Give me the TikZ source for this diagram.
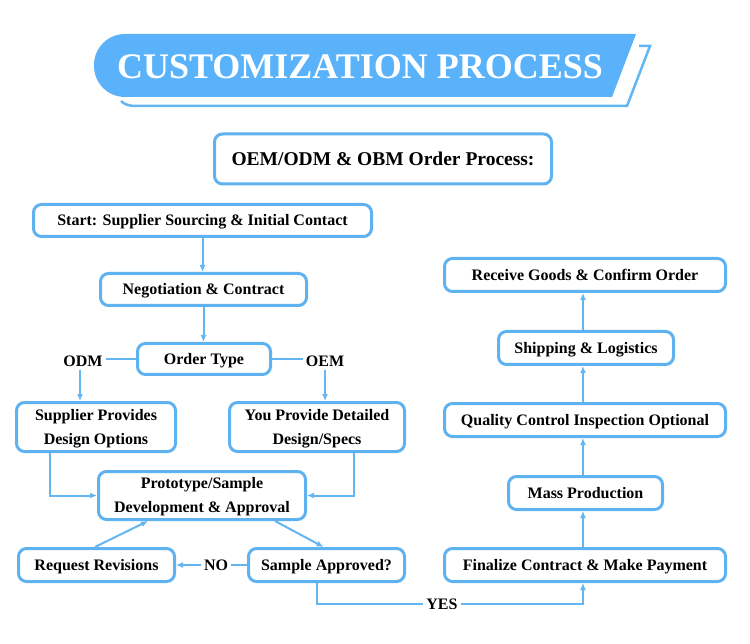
\documentclass[tikz,border=0pt]{standalone}
\usepackage{fontspec}
\setmainfont{Liberation Serif}
\usetikzlibrary{arrows.meta,calc}
\definecolor{bannerblue}{RGB}{90,179,250}
\definecolor{boxblue}{RGB}{94,178,240}
\definecolor{lineblue}{RGB}{100,182,242}
\begin{document}
\begin{tikzpicture}[x=1pt,y=-1pt,
 box/.style={draw=boxblue,line width=3pt,rounded corners=8pt,fill=white,inner sep=0pt,align=center,text depth=0.5pt,font=\bfseries\fontsize{16}{24}\selectfont},
 lbl/.style={inner sep=3pt,font=\bfseries\fontsize{16}{19}\selectfont},
 ln/.style={draw=lineblue,line width=2pt},
 arr/.style={ln,-{Latex[length=7pt,width=6pt]}}]
\useasboundingbox (0,0) rectangle (750,644);
\fill[white] (0,0) rectangle (750,644);
% banner
\draw[lineblue, line width=2.5pt, line join=miter] (639,46) -- (650,46) -- (627,106) -- (136,106) .. controls (128,106) and (124,104) .. (121,101);
\fill[bannerblue] (636,34) -- (300,34) [rounded corners=31pt] -- (94,34) -- (94,97) -- (300,97) [sharp corners] -- (612,97) -- cycle;
\node[text=white, inner sep=0pt, font=\bfseries\fontsize{36}{40}\selectfont] (title) at (360,67) {CUSTOMIZATION PROCESS};
% boxes
\node[box, minimum width=337pt, minimum height=50pt, font=\bfseries\fontsize{19.5}{23}\selectfont] (head) at (383,159) {OEM/ODM \& OBM Order Process:};
\node[box, minimum width=338pt, minimum height=32pt] (start) at (202.5,220.5) {Start: Supplier Sourcing \& Initial Contact};
\node[box, minimum width=206pt, minimum height=32pt] (nego) at (203.5,289.5) {Negotiation \& Contract};
\node[box, minimum width=133pt, minimum height=31pt] (order) at (204,359) {Order Type};
\node[box, minimum width=159pt, minimum height=49pt] (supp) at (96,427) {Supplier Provides\\Design Options};
\node[box, minimum width=175pt, minimum height=49pt] (you) at (317,427) {You Provide Detailed\\Design/Specs};
\node[box, minimum width=207pt, minimum height=48pt] (proto) at (202,495.5) {Prototype/Sample\\Development \& Approval};
\node[box, minimum width=156pt, minimum height=33pt] (req) at (96.5,565) {Request Revisions};
\node[box, minimum width=156pt, minimum height=33pt] (samp) at (326.5,565) {Sample Approved?};
\node[box, minimum width=281pt, minimum height=33pt] (fin) at (585,565) {Finalize Contract \& Make Payment};
\node[box, minimum width=154pt, minimum height=33pt] (mass) at (585.5,493) {Mass Production};
\node[box, minimum width=281pt, minimum height=33pt] (qc) at (585,420) {Quality Control Inspection Optional};
\node[box, minimum width=175pt, minimum height=33pt] (ship) at (586,348) {Shipping \& Logistics};
\node[box, minimum width=281pt, minimum height=33pt] (recv) at (585,275) {Receive Goods \& Confirm Order};
% labels
\node[lbl] (odm) at (83,361) {ODM};
\node[lbl] (oem) at (325,361) {OEM};
\node[lbl] (no) at (216,565) {NO};
\node[lbl] (yes) at (442,604) {YES};
% connectors
\draw[arr] (start.south) -- (start.south |- nego.north);
\draw[arr] (nego.south) -- (nego.south |- order.north);
\draw[ln] (order.west) -- (order.west -| odm.east);
\draw[arr] ([xshift=-3pt]odm.south) -- ([xshift=-3pt]odm.south |- supp.north);
\draw[ln] (order.east) -- (order.east -| oem.west);
\draw[arr] (oem.south) -- (oem.south |- you.north);
\draw[arr] ([xshift=-46pt]supp.south) |- (proto.west);
\draw[arr] ([xshift=37pt]you.south) |- (proto.east);
\draw[arr] ([xshift=73pt]proto.south) -- ([xshift=-3pt]samp.north);
\draw[arr] ([xshift=-1.5pt]req.north) -- ([xshift=-54pt]proto.south);
\draw[ln] (samp.west) -- (no.east);
\draw[arr] (no.west) -- (req.east);
\draw[ln] ([xshift=-10pt]samp.south) |- (yes.west);
\draw[arr] (yes.east) -| ([xshift=-2pt]fin.south);
\draw[arr] ([xshift=-2pt]fin.north) -- ([xshift=-2pt]fin.north |- mass.south);
\draw[arr] ([xshift=-2.5pt]mass.north) -- ([xshift=-2.5pt]mass.north |- qc.south);
\draw[arr] ([xshift=-2pt]qc.north) -- ([xshift=-2pt]qc.north |- ship.south);
\draw[arr] ([xshift=-3pt]ship.north) -- ([xshift=-3pt]ship.north |- recv.south);
\end{tikzpicture}
\end{document}
